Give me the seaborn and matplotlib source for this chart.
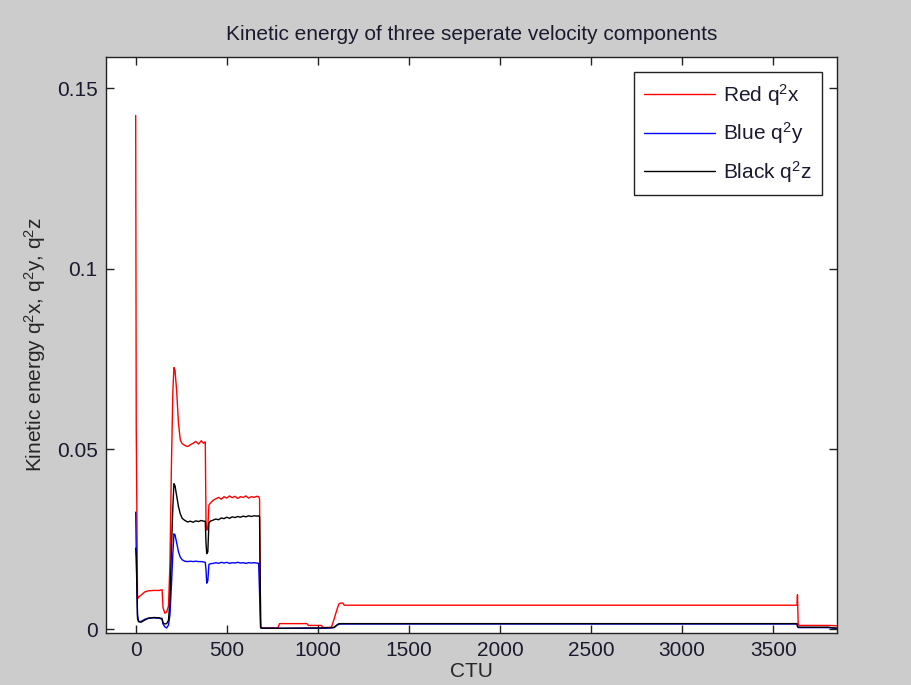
import matplotlib
matplotlib.use('Agg')
import matplotlib.pyplot as plt
import pandas as pd
import seaborn as sns

# Values (CTU on x, kinetic energy on y)
ctu = [0, 3, 10, 16, 30, 50, 70, 100, 130, 145,
       150, 160, 170, 180, 188, 196, 204, 210, 216, 225,
       235, 245, 255, 270, 285, 300, 315, 330, 345, 360,
       372, 382, 386, 390, 396, 402, 410, 425, 440, 455,
       470, 485, 500, 515, 530, 545, 560, 575, 590, 605,
       620, 635, 650, 665, 675, 680, 686, 700, 780, 790,
       940, 948, 1020, 1028, 1075, 1090, 1105, 1115, 1125, 1137,
       1145, 2000, 3000, 3630, 3633, 3637, 3645, 3800, 3850]

red_q2x = [0.1425, 0.0560, 0.0085, 0.0090, 0.0095, 0.0104, 0.0107, 0.0108, 0.0108, 0.0110,
           0.0060, 0.0045, 0.0048, 0.0065, 0.0180, 0.0450, 0.0660, 0.0726, 0.0718, 0.0660,
           0.0570, 0.0525, 0.0515, 0.0510, 0.0507, 0.0512, 0.0516, 0.0521, 0.0514, 0.0523,
           0.0516, 0.0520, 0.0300, 0.0275, 0.0282, 0.0345, 0.0350, 0.0358, 0.0362, 0.0366,
           0.0361, 0.0368, 0.0364, 0.0370, 0.0365, 0.0369, 0.0363, 0.0368, 0.0366, 0.0370,
           0.0364, 0.0368, 0.0366, 0.0369, 0.0368, 0.0362, 0.0006, 0.0004, 0.0004, 0.0016,
           0.0016, 0.0011, 0.0011, 0.0005, 0.0006, 0.0030, 0.0055, 0.0070, 0.0073, 0.0073,
           0.0067, 0.0067, 0.0067, 0.0067, 0.0096, 0.0013, 0.0011, 0.0011, 0.0010]

blue_q2y = [0.0325, 0.0220, 0.0040, 0.0022, 0.0022, 0.0028, 0.0031, 0.0032, 0.0031, 0.0028,
            0.0015, 0.0007, 0.0004, 0.0012, 0.0040, 0.0120, 0.0210, 0.0265, 0.0262, 0.0240,
            0.0215, 0.0200, 0.0193, 0.0189, 0.0188, 0.0189, 0.0188, 0.0189, 0.0188, 0.0188,
            0.0187, 0.0186, 0.0165, 0.0128, 0.0135, 0.0180, 0.0182, 0.0183, 0.0185, 0.0183,
            0.0186, 0.0184, 0.0186, 0.0183, 0.0185, 0.0184, 0.0186, 0.0184, 0.0185, 0.0183,
            0.0185, 0.0184, 0.0185, 0.0184, 0.0183, 0.0100, 0.0005, 0.0003, 0.0003, 0.0003,
            0.0003, 0.0003, 0.0003, 0.0003, 0.0004, 0.0005, 0.0012, 0.0014, 0.0015, 0.0015,
            0.0015, 0.0015, 0.0015, 0.0015, 0.0012, 0.0005, 0.0005, 0.0005, 0.0003]

black_q2z = [0.0225, 0.0200, 0.0030, 0.0021, 0.0020, 0.0026, 0.0031, 0.0033, 0.0032, 0.0030,
             0.0018, 0.0015, 0.0016, 0.0025, 0.0080, 0.0220, 0.0340, 0.0404, 0.0398, 0.0370,
             0.0340, 0.0320, 0.0308, 0.0302, 0.0298, 0.0300, 0.0297, 0.0301, 0.0299, 0.0302,
             0.0300, 0.0300, 0.0240, 0.0210, 0.0215, 0.0295, 0.0300, 0.0303, 0.0306, 0.0304,
             0.0309, 0.0307, 0.0311, 0.0308, 0.0312, 0.0310, 0.0313, 0.0311, 0.0314, 0.0312,
             0.0315, 0.0313, 0.0315, 0.0314, 0.0315, 0.0312, 0.0004, 0.0003, 0.0003, 0.0003,
             0.0004, 0.0004, 0.0004, 0.0004, 0.0005, 0.0006, 0.0012, 0.0016, 0.0016, 0.0016,
             0.0016, 0.0016, 0.0016, 0.0016, 0.0008, 0.0006, 0.0006, 0.0006, 0.0003]

labels = [r'Red q$^{\mathrm{2}}$x', r'Blue q$^{\mathrm{2}}$y', r'Black q$^{\mathrm{2}}$z']
colours = ['#ff0000', '#0000ff', '#000000']

x_ticks = [0, 500, 1000, 1500, 2000, 2500, 3000, 3500]
y_ticks = [0, 0.05, 0.1, 0.15]
y_tick_labels = ['0', '0.05', '0.1', '0.15']

sns.set_style('ticks')
plt.rcParams.update({
    'font.family': ['Liberation Sans', 'DejaVu Sans'],
    'font.size': 15,
    'mathtext.fontset': 'custom',
    'mathtext.rm': 'Liberation Sans',
    'mathtext.it': 'Liberation Sans:italic',
    'text.color': '#1a1a2e',
})

# Long format for seaborn
data = pd.DataFrame({'ctu': ctu, labels[0]: red_q2x, labels[1]: blue_q2y, labels[2]: black_q2z})
data_long = pd.melt(data, id_vars=['ctu'], value_vars=labels, var_name='component', value_name='energy')

fig = plt.figure(figsize=(9.12, 6.85), dpi=100, facecolor='#cccccc')
ax = fig.add_axes([106 / 912, 1 - 633 / 685, 731 / 912, 576 / 685])
ax.set_facecolor('white')

sns.lineplot(data=data_long, x='ctu', y='energy', hue='component', hue_order=labels,
             palette=dict(zip(labels, colours)), estimator=None, errorbar=None,
             linewidth=1.0, ax=ax)

ax.set_xlim(-163, 3850)
ax.set_ylim(-0.001, 0.1587)
ax.set_xticks(x_ticks)
ax.set_xticklabels([str(t) for t in x_ticks])
ax.set_yticks(y_ticks)
ax.set_yticklabels(y_tick_labels)
ax.tick_params(direction='in', length=6, width=1, colors='#222222', labelcolor='#1a1a2e',
               top=True, right=True, pad=6, labelsize=15)
for s in ax.spines.values():
    s.set_visible(True)
    s.set_color('#222222')
    s.set_linewidth(1)

ax.set_title('Kinetic energy of three seperate velocity components', fontsize=15, pad=12)
ax.set_ylabel(r'Kinetic energy q$^{\mathrm{2}}$x, q$^{\mathrm{2}}$y, q$^{\mathrm{2}}$z', fontsize=15, labelpad=6)
ax.set_xlabel('CTU', fontsize=15, labelpad=1)

handles, _ = ax.get_legend_handles_labels()
leg = ax.legend(handles, labels, loc='upper right', fontsize=15, frameon=True, fancybox=False,
                framealpha=1, edgecolor='#222222', handlelength=3.4, handletextpad=0.4,
                labelspacing=0.6, borderpad=0.5, borderaxespad=0.7)
leg.get_frame().set_linewidth(1)

fig.savefig('out.png', dpi=100, facecolor=fig.get_facecolor())
